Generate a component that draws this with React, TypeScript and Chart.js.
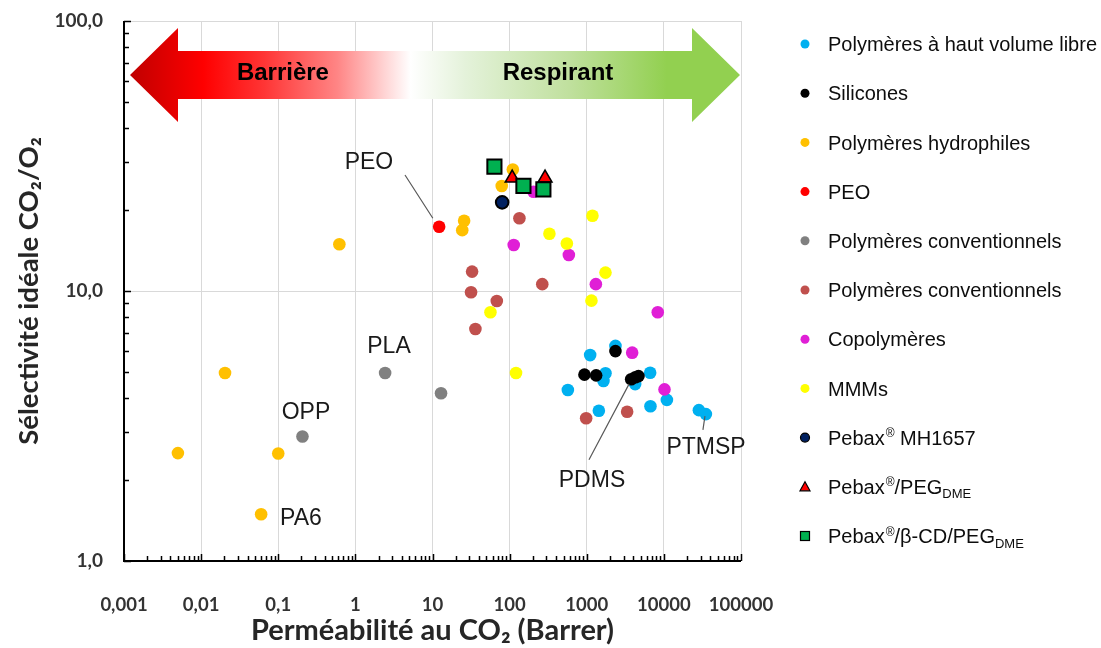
import React, { useEffect, useRef } from "react";
import { Chart, registerables } from "chart.js";

Chart.register(...registerables);

// ---------- DATA ----------
const xTickValues = [0.001, 0.01, 0.1, 1, 10, 100, 1000, 10000, 100000];
const yTickValues = [1, 10, 100];

const seriesNames = [
  "Polymères à haut volume libre",
  "Silicones",
  "Polymères hydrophiles",
  "PEO",
  "Polymères conventionnels",
  "Polymères conventionnels",
  "Copolymères",
  "MMMs",
  "Pebax® MH1657",
  "Pebax®/PEG_DME",
  "Pebax®/β-CD/PEG_DME",
];

const hfvX = [2356, 1107, 1750, 1647, 6640, 4245, 569, 1435, 6700, 10940, 28440, 35070];
const hfvY = [6.26, 5.79, 4.96, 4.64, 4.98, 4.52, 4.3, 3.6, 3.74, 3.95, 3.62, 3.5];

const siliconesX = [2356, 934, 1324, 3767, 4265, 4690];
const siliconesY = [5.99, 4.9, 4.87, 4.71, 4.79, 4.84];

const hydrophilesX = [0.005, 0.0204, 0.1, 0.06, 0.62, 25.7, 24.3, 110, 79];
const hydrophilesY = [2.51, 4.97, 2.5, 1.49, 14.9, 18.2, 16.8, 28.2, 24.5];

const peoX = [12.2];
const peoY = [17.3];

const convGreyX = [2.43, 12.9, 0.206];
const convGreyY = [4.97, 4.18, 2.89];

const convBrownX = [134, 32.6, 31.6, 68.2, 36, 265, 982, 3340];
const convBrownY = [18.6, 11.8, 9.89, 9.18, 7.23, 10.6, 3.38, 3.57];

const copoX = [204, 113, 586, 1313, 8330, 3880, 10190];
const copoY = [23.3, 14.8, 13.6, 10.6, 8.34, 5.91, 4.32];

const mmmX = [1186, 328, 552, 1750, 1151, 56.4, 121];
const mmmY = [19.0, 16.3, 15.0, 11.7, 9.21, 8.34, 4.97];

const pebaxX = [80];
const pebaxY = [21.3];

const pebaxPegX = [108, 288];
const pebaxPegY = [26.2, 26.2];

const pebaxCdX = [63.5, 151, 274];
const pebaxCdY = [28.9, 24.5, 23.8];

const annotLabels = ["PEO", "PLA", "OPP", "PA6", "PDMS", "PTMSP"];
const annotX = [1.5, 2.73, 0.229, 0.197, 1170, 35200];
const annotY = [30.0, 6.2, 3.53, 1.43, 1.98, 2.64];

const leaderFromX = [4.4, 1069, 32100];
const leaderFromY = [26.9, 2.37, 3.06];
const leaderToX = [10.1, 3531, 34100];
const leaderToY = [18.6, 4.52, 3.44];

const arrowTexts = ["Barrière", "Respirant"];
const arrowTextX = [0.115, 424];

// ---------- STYLE ----------
const colors = [
  "#00B0F0",
  "#000000",
  "#FFC000",
  "#FF0000",
  "#808080",
  "#C0504D",
  "#E01FD6",
  "#FFFF00",
  "#002060",
  "#FF0000",
  "#00B050",
];
const styles = ["circle", "circle", "circle", "circle", "circle", "circle", "circle", "circle", "circle", "triangle", "rect"];

const seriesX = [hfvX, siliconesX, hydrophilesX, peoX, convGreyX, convBrownX, copoX, mmmX, pebaxX, pebaxPegX, pebaxCdX];
const seriesY = [hfvY, siliconesY, hydrophilesY, peoY, convGreyY, convBrownY, copoY, mmmY, pebaxY, pebaxPegY, pebaxCdY];

function fmtX(v: number): string {
  if (v >= 1) return String(Math.round(v));
  return String(v).replace(".", ",");
}
function fmtY(v: number): string {
  return v.toFixed(1).replace(".", ",");
}

// draws text with ® as superscript and _XXX as subscript
function drawRich(ctx: CanvasRenderingContext2D, text: string, x: number, y: number, size: number, family: string) {
  const parts: { t: string; k: "n" | "sup" | "sub" }[] = [];
  let main = text;
  let sub = "";
  const ui = text.indexOf("_");
  if (ui >= 0) {
    main = text.slice(0, ui);
    sub = text.slice(ui + 1);
  }
  let buf = "";
  for (const ch of main) {
    if (ch === "®") {
      if (buf) parts.push({ t: buf, k: "n" });
      buf = "";
      parts.push({ t: ch, k: "sup" });
    } else buf += ch;
  }
  if (buf) parts.push({ t: buf, k: "n" });
  if (sub) parts.push({ t: sub, k: "sub" });
  let cx = x;
  ctx.textAlign = "left";
  ctx.textBaseline = "alphabetic";
  const base = y + size * 0.36;
  for (const p of parts) {
    if (p.k === "n") {
      ctx.font = `${size}px ${family}`;
      ctx.fillText(p.t, cx, base);
      cx += ctx.measureText(p.t).width;
    } else if (p.k === "sup") {
      ctx.font = `${Math.round(size * 0.62)}px ${family}`;
      ctx.fillText(p.t, cx + 1, base - size * 0.38);
      cx += ctx.measureText(p.t).width + 1;
    } else {
      ctx.font = `${Math.round(size * 0.65)}px ${family}`;
      ctx.fillText(p.t, cx, base + size * 0.22);
      cx += ctx.measureText(p.t).width;
    }
  }
}

const decorPlugin = {
  id: "decor",
  beforeDatasetsDraw(chart: any) {
    const { ctx, chartArea: a, scales } = chart;
    const xs = scales.x;
    const ys = scales.y;
    ctx.save();
    // ---- arrow ----
    const tipL = a.left + 6;
    const tipR = a.right - 1;
    const cy = a.top + 54;
    const headLen = 48;
    const headHalf = 47;
    const shaftHalf = 24;
    const g = ctx.createLinearGradient(tipL, 0, tipR, 0);
    g.addColorStop(0, "#C00000");
    g.addColorStop(0.12, "#FF0000");
    g.addColorStop(0.22, "#FF3535");
    g.addColorStop(0.34, "#FF8585");
    g.addColorStop(0.46, "#FFFFFF");
    g.addColorStop(0.55, "#E4F2DA");
    g.addColorStop(0.72, "#C0E09E");
    g.addColorStop(0.88, "#92D050");
    g.addColorStop(1, "#92D050");
    ctx.beginPath();
    ctx.moveTo(tipL, cy);
    ctx.lineTo(tipL + headLen, cy - headHalf);
    ctx.lineTo(tipL + headLen, cy - shaftHalf);
    ctx.lineTo(tipR - headLen, cy - shaftHalf);
    ctx.lineTo(tipR - headLen, cy - headHalf);
    ctx.lineTo(tipR, cy);
    ctx.lineTo(tipR - headLen, cy + headHalf);
    ctx.lineTo(tipR - headLen, cy + shaftHalf);
    ctx.lineTo(tipL + headLen, cy + shaftHalf);
    ctx.lineTo(tipL + headLen, cy + headHalf);
    ctx.closePath();
    ctx.fillStyle = g;
    ctx.fill();
    ctx.fillStyle = "#000";
    ctx.font = "bold 24px 'Liberation Sans', Arial, sans-serif";
    ctx.textAlign = "center";
    ctx.textBaseline = "middle";
    arrowTexts.forEach((t, i) => {
      ctx.fillText(t, xs.getPixelForValue(arrowTextX[i]), cy - 2);
    });

    // ---- axes ----
    ctx.strokeStyle = "#000";
    ctx.lineWidth = 2;
    ctx.beginPath();
    ctx.moveTo(a.left, a.top);
    ctx.lineTo(a.left, a.bottom);
    ctx.lineTo(a.right, a.bottom);
    ctx.stroke();
    ctx.lineWidth = 1.5;
    ctx.beginPath();
    for (let d = 1; d <= 100; d *= 10) {
      for (let m = 1; m <= 9; m++) {
        const v = d * m;
        if (v > 100) break;
        const py = Math.round(ys.getPixelForValue(v)) + 0.5;
        const len = m === 1 ? 7 : 5;
        ctx.moveTo(a.left, py);
        ctx.lineTo(a.left + len, py);
      }
    }
    for (let d = 0.001; d <= 100001; d *= 10) {
      for (let m = 1; m <= 9; m++) {
        const v = d * m;
        if (v > 100001) break;
        const px = Math.round(xs.getPixelForValue(v)) + 0.5;
        const len = m === 1 ? 7 : 5;
        ctx.moveTo(px, a.bottom);
        ctx.lineTo(px, a.bottom - len);
      }
    }
    ctx.stroke();
    ctx.restore();
  },
  afterDatasetsDraw(chart: any) {
    const { ctx, scales } = chart;
    const xs = scales.x;
    const ys = scales.y;
    ctx.save();
    ctx.strokeStyle = "#595959";
    ctx.lineWidth = 1.2;
    ctx.beginPath();
    leaderFromX.forEach((_, i) => {
      ctx.moveTo(xs.getPixelForValue(leaderFromX[i]), ys.getPixelForValue(leaderFromY[i]));
      ctx.lineTo(xs.getPixelForValue(leaderToX[i]), ys.getPixelForValue(leaderToY[i]));
    });
    ctx.stroke();
    ctx.fillStyle = "#1a1a1a";
    ctx.font = "23px 'Liberation Sans', Arial, sans-serif";
    ctx.textAlign = "center";
    ctx.textBaseline = "middle";
    annotLabels.forEach((t, i) => {
      ctx.fillText(t, xs.getPixelForValue(annotX[i]), ys.getPixelForValue(annotY[i]));
    });
    ctx.restore();
  },
  afterDraw(chart: any) {
    const { ctx } = chart;
    ctx.save();
    const mx = 805;
    const tx = 828;
    const y0 = 44;
    const dy = 49.2;
    seriesNames.forEach((name, i) => {
      const y = y0 + i * dy;
      ctx.fillStyle = colors[i];
      ctx.strokeStyle = "#000";
      ctx.lineWidth = 1.2;
      if (styles[i] === "circle") {
        ctx.beginPath();
        ctx.arc(mx, y, 4.5, 0, Math.PI * 2);
        ctx.fill();
        if (i === 8) ctx.stroke();
      } else if (styles[i] === "triangle") {
        ctx.beginPath();
        ctx.moveTo(mx, y - 5);
        ctx.lineTo(mx + 5, y + 4);
        ctx.lineTo(mx - 5, y + 4);
        ctx.closePath();
        ctx.fill();
        ctx.stroke();
      } else {
        ctx.fillRect(mx - 4.5, y - 4.5, 9, 9);
        ctx.strokeRect(mx - 4.5, y - 4.5, 9, 9);
      }
      ctx.fillStyle = "#0d0d0d";
      drawRich(ctx, name, tx, y, 20, "'Liberation Sans', Arial, sans-serif");
    });
    ctx.restore();
  },
};

export default function App() {
  const ref = useRef<HTMLCanvasElement | null>(null);
  useEffect(() => {
    if (!ref.current) return;
    const datasets = seriesNames.map((name, i) => {
      const isPebax = i === 8;
      const isTri = i === 9;
      const isSq = i === 10;
      return {
        label: name.replace("_", ""),
        data: seriesX[i].map((x, j) => ({ x, y: seriesY[i][j] })),
        backgroundColor: colors[i],
        borderColor: isPebax || isTri || isSq ? "#000" : colors[i],
        borderWidth: isPebax || isSq ? 2 : isTri ? 1.5 : 0,
        pointStyle: styles[i],
        pointRadius: isSq ? 10 : isTri ? 8 : 6.3,
        pointHoverRadius: isSq ? 10 : isTri ? 8 : 6.3,
        order: seriesNames.length - i,
      };
    });
    const chart = new Chart(ref.current, {
      type: "scatter",
      data: { datasets },
      options: {
        animation: false,
        responsive: false,
        layout: { padding: { top: 21, right: 360, left: 0, bottom: 0 } },
        plugins: {
          legend: { display: false },
          tooltip: { enabled: false },
        },
        scales: {
          x: {
            type: "logarithmic",
            min: 0.001,
            max: 100000,
            afterBuildTicks: (s: any) => {
              s.ticks = xTickValues.map((v) => ({ value: v }));
            },
            afterFit: (s: any) => {
              s.height = 87;
              s.paddingLeft = 0;
              s.paddingRight = 0;
            },
            border: { display: false },
            grid: { color: "#D9D9D9", lineWidth: 1, drawTicks: false },
            ticks: {
              autoSkip: false,
              maxRotation: 0,
              padding: 33,
              color: "#333333",
              font: { family: "Lato", weight: "bold", size: 18.5 },
              callback: (v: any) => fmtX(Number(v)),
            },
            title: {
              display: true,
              text: "Perméabilité au CO₂ (Barrer)",
              color: "#262626",
              font: { family: "Lato", weight: "bold", size: 29 },
              padding: { top: 0, bottom: 0 },
            },
          },
          y: {
            type: "logarithmic",
            min: 1,
            max: 100,
            afterBuildTicks: (s: any) => {
              s.ticks = yTickValues.map((v) => ({ value: v }));
            },
            afterFit: (s: any) => {
              s.width = 124;
              s.paddingTop = 0;
              s.paddingBottom = 0;
            },
            border: { display: false },
            grid: { color: "#D9D9D9", lineWidth: 1, drawTicks: false },
            ticks: {
              padding: 21,
              color: "#333333",
              font: { family: "Lato", weight: "bold", size: 19 },
              callback: (v: any) => fmtY(Number(v)),
            },
            title: {
              display: true,
              text: "Sélectivité idéale CO₂/O₂",
              color: "#262626",
              font: { family: "Lato", weight: "bold", size: 27.5 },
              padding: { top: 13, bottom: 0 },
            },
          },
        },
      },
      plugins: [decorPlugin],
    } as any);
    return () => chart.destroy();
  }, []);
  return (
    <div style={{ position: "absolute", left: 0, top: 0, width: 1101, height: 648, background: "#fff" }}>
      <canvas ref={ref} width={1101} height={648} />
    </div>
  );
}
